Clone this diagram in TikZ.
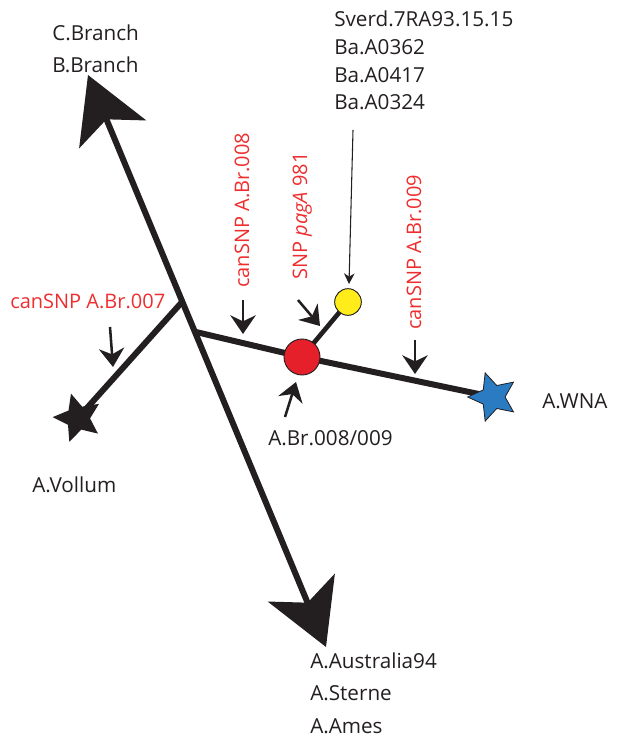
\documentclass[tikz,border=0pt]{standalone}
\usepackage{fontspec}
\setmainfont{Open Sans}
\usetikzlibrary{arrows.meta,shapes.geometric}
\definecolor{ink}{HTML}{231F20}
\definecolor{snpred}{HTML}{EE2E2E}
\definecolor{dotred}{HTML}{E5202A}
\definecolor{dotyellow}{HTML}{FFEC1A}
\definecolor{starblue}{HTML}{2A7BC1}
\begin{document}
\begin{tikzpicture}[x=0.75pt,y=-0.75pt,
  branch/.style={line width=4.5pt, draw=ink},
  bighead/.tip={Stealth[length=48pt,width=54pt,inset=12pt]},
  pointer/.style={draw=ink, line width=1.9pt, -{Stealth[length=14pt,width=19pt,inset=4.5pt]}},
  thinpointer/.style={draw=ink, line width=0.8pt, -{Stealth[length=8pt,width=8pt,inset=2.5pt]}},
  lbl/.style={text=ink, font=\fontsize{15.5}{18}\selectfont, inner sep=0pt, anchor=base west},
  redlbl/.style={text=snpred, font=\fontsize{15}{18}\selectfont, inner sep=0pt, anchor=base west},
  dot/.style={circle, draw=ink, line width=0.7pt, inner sep=0pt},
  starmark/.style={star, star points=5, star point ratio=2.1, inner sep=0pt, minimum size=38pt}
]
\useasboundingbox (0,0) rectangle (625,738);

% key points
\coordinate (topTip) at (88,75);
\coordinate (botTip) at (326,647);
\coordinate (j1) at (182,302);
\coordinate (j2) at (196,332);
\coordinate (vpos) at (78,418);
\coordinate (rpos) at (302,357);
\coordinate (ypos) at (348,302);
\coordinate (wpos) at (493,397);

% branches
\draw[branch, {bighead}-{bighead}] (topTip) -- (botTip);
\draw[branch] (j1) -- (vpos);
\draw[branch] (j2) -- (rpos) -- (wpos);
\draw[draw=ink, line width=3.5pt] (rpos) -- (ypos);

% markers
\node[dot, fill=dotred, minimum size=27pt] (red) at (rpos) {};
\node[dot, fill=dotyellow, minimum size=20pt] (yellow) at (ypos) {};
\node[starmark, fill=ink, shape border rotate=16] (vstar) at (vpos) {};
\node[starmark, fill=starblue, draw=ink, line width=0.6pt, shape border rotate=18] (wstar) at (wpos) {};

% pointer arrows
\coordinate (p1a) at (110,327); \coordinate (p1b) at (113,367);
\coordinate (p2a) at (243,300); \coordinate (p2b) at (243,334);
\coordinate (p3a) at (298,300); \coordinate (p3b) at (320,326);
\coordinate (p4a) at (415,340); \coordinate (p4b) at (415,374);
\coordinate (p5a) at (285,417); \coordinate (p5b) at (296,382);
\coordinate (tA) at (353,130); \coordinate (tB) at (349,284);
\draw[pointer] (p1a) -- (p1b);
\draw[pointer] (p2a) -- (p2b);
\draw[pointer] (p3a) -- (p3b);
\draw[pointer] (p4a) -- (p4b);
\draw[pointer] (p5a) -- (p5b);
\draw[thinpointer] (tA) -- (tB);

% labels
\node[lbl] (cbr) at (52,41) {C.Branch};
\node[lbl] (bbr) at (52,73) {B.Branch};
\node[lbl] (s1) at (334,27) {Sverd.7RA93.15.15};
\node[lbl] (s2) at (334,55) {Ba.A0362};
\node[lbl] (s3) at (334,82.5) {Ba.A0417};
\node[lbl] (s4) at (334,110) {Ba.A0324};
\node[lbl] (vol) at (32,492) {A.Vollum};
\node[lbl] (wna) at (542,408) {A.WNA};
\node[lbl] (br89) at (268,445) {A.Br.008/009};
\node[lbl] (aus) at (310,668) {A.Australia94};
\node[lbl] (ste) at (310,700.5) {A.Sterne};
\node[lbl] (ame) at (310,733) {A.Ames};
\node[redlbl] (l007) at (10,308) {canSNP A.Br.007};
\node[redlbl, rotate=90] (l008) at (249,288) {canSNP A.Br.008};
\node[redlbl, rotate=90] (lpag) at (307,280) {SNP \textit{pagA} 981};
\node[redlbl, rotate=90] (l009) at (421,330) {canSNP A.Br.009};
\end{tikzpicture}
\end{document}
